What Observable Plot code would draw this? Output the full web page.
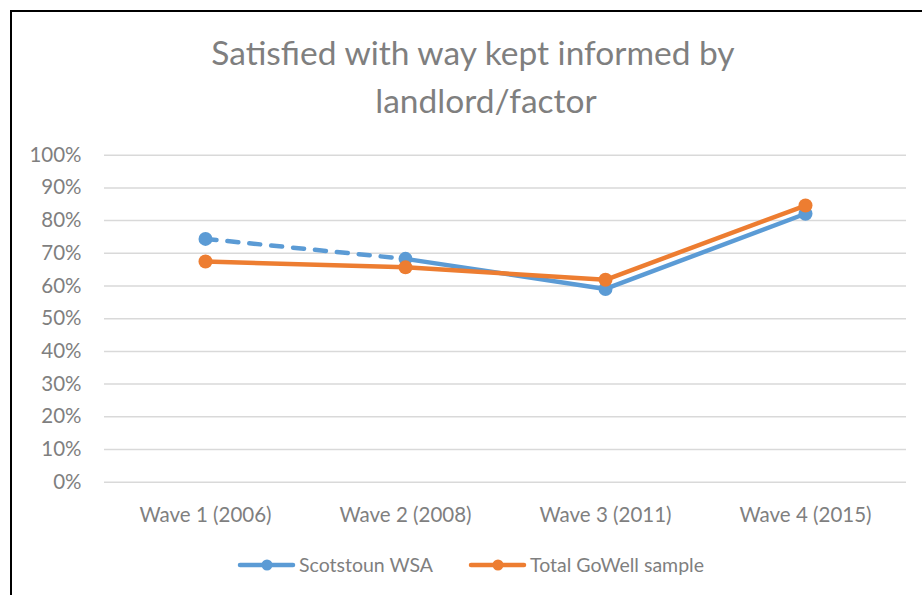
<!DOCTYPE html>
<html>
<head>
<meta charset="utf-8">
<script src="https://cdn.jsdelivr.net/npm/d3@7"></script>
<script src="https://cdn.jsdelivr.net/npm/@observablehq/plot@0.6"></script>
<style>
  html, body { margin: 0; padding: 0; background: #fff; }
  #wrap { position: relative; width: 922px; height: 595px; overflow: hidden; font-family: Lato, sans-serif; }
  #chart, #overlay { position: absolute; left: 0; top: 0; }
  #overlay { pointer-events: none; }
</style>
</head>
<body>
<div id="wrap">
  <div id="chart"></div>
  <svg id="overlay" width="922" height="595"></svg>
</div>
<script>
const titleLines = ["Satisfied with way kept informed by", "landlord/factor"];
const categories = ["Wave 1 (2006)", "Wave 2 (2008)", "Wave 3 (2011)", "Wave 4 (2015)"];
const scotstoun = [0.744, 0.683, 0.591, 0.821];
const totalGoWell = [0.675, 0.657, 0.619, 0.846];
const yTicks = [0, 0.1, 0.2, 0.3, 0.4, 0.5, 0.6, 0.7, 0.8, 0.9, 1.0];
const seriesNames = ["Scotstoun WSA", "Total GoWell sample"];
const seriesColors = ["#5b9bd5", "#ed7d31"];

const blueRows = categories.map((c, i) => ({wave: c, value: scotstoun[i], i}));
const orangeRows = categories.map((c, i) => ({wave: c, value: totalGoWell[i], i}));

const textColor = "#7f7f7f";

const plot = Plot.plot({
  width: 922,
  height: 595,
  marginLeft: 104,
  marginRight: 16,
  marginTop: 154.7,
  marginBottom: 113.3,
  style: {fontFamily: "Lato, sans-serif", fontSize: "20.5px", color: textColor, background: "transparent"},
  x: {type: "point", domain: categories, padding: 0.5, label: null, tickSize: 0, tickPadding: 25},
  y: {domain: [0, 1], ticks: yTicks, tickFormat: d3.format(".0%"), tickSize: 0, tickPadding: 23, label: null},
  marks: [
    Plot.ruleY(yTicks, {stroke: "#d9d9d9", strokeWidth: 1.5}),
    Plot.line(blueRows.filter(d => d.i <= 1), {x: "wave", y: "value", stroke: seriesColors[0], strokeWidth: 4.5, strokeDasharray: "11,11", strokeLinecap: "round"}),
    Plot.line(blueRows.filter(d => d.i >= 1), {x: "wave", y: "value", stroke: seriesColors[0], strokeWidth: 4.5, strokeLinejoin: "round"}),
    Plot.dot(blueRows, {x: "wave", y: "value", r: 7, fill: seriesColors[0], stroke: "none"}),
    Plot.line(orangeRows, {x: "wave", y: "value", stroke: seriesColors[1], strokeWidth: 4.5, strokeLinejoin: "round"}),
    Plot.dot(orangeRows, {x: "wave", y: "value", r: 7, fill: seriesColors[1], stroke: "none"})
  ]
});
document.getElementById("chart").appendChild(plot);

const ov = d3.select("#overlay");
// chart area border
ov.append("line").attr("x1", 11).attr("x2", 11).attr("y1", 10).attr("y2", 600).attr("stroke", "#000").attr("stroke-width", 2);
ov.append("line").attr("x1", 10).attr("x2", 930).attr("y1", 11).attr("y2", 11).attr("stroke", "#000").attr("stroke-width", 2);

// title
ov.append("text").attr("x", 473).attr("y", 65).attr("text-anchor", "middle")
  .attr("font-family", "Lato, sans-serif").attr("font-size", 33.5).attr("fill", textColor).text(titleLines[0]);
ov.append("text").attr("x", 486).attr("y", 113).attr("text-anchor", "middle")
  .attr("font-family", "Lato, sans-serif").attr("font-size", 33.5).attr("fill", textColor).text(titleLines[1]);

// legend
const legendX = [238, 469];
seriesNames.forEach((name, k) => {
  const g = ov.append("g").attr("transform", `translate(${legendX[k]},565)`);
  g.append("line").attr("x1", 2).attr("x2", 55).attr("y1", 0).attr("y2", 0)
    .attr("stroke", seriesColors[k]).attr("stroke-width", 4.5).attr("stroke-linecap", "round");
  g.append("circle").attr("cx", 29).attr("cy", 0).attr("r", 5.5).attr("fill", seriesColors[k]);
  g.append("text").attr("x", 61).attr("y", 7).attr("font-family", "Lato, sans-serif")
    .attr("font-size", 19.5).attr("fill", textColor).text(name);
});
</script>
</body>
</html>
